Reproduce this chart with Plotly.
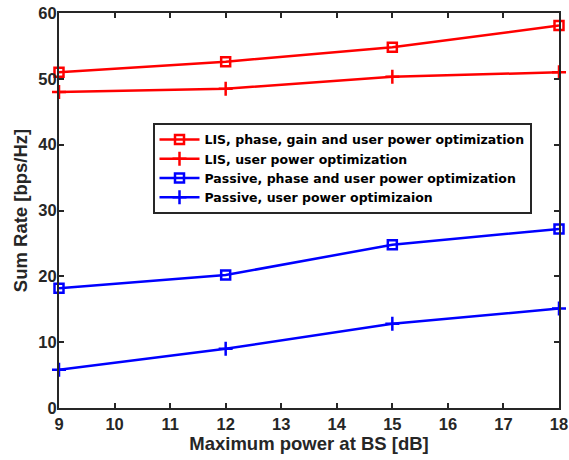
import plotly.graph_objects as go

x_power = [9, 12, 15, 18]
lis_full = [51.0, 52.6, 54.8, 58.1]
lis_user = [48.0, 48.5, 50.3, 51.0]
passive_phase = [18.2, 20.2, 24.8, 27.2]
passive_user = [5.8, 9.0, 12.8, 15.1]

names = [
    "LIS, phase, gain and user power optimization",
    "LIS, user power optimization",
    "Passive, phase and user power optimization",
    "Passive, user power optimizaion",
]

fig = go.Figure()
series = [
    (lis_full, "#ff0000", "square-open", 9),
    (lis_user, "#ff0000", "cross-thin-open", 10),
    (passive_phase, "#0000ff", "square-open", 9),
    (passive_user, "#0000ff", "cross-thin-open", 10),
]
for (vals, col, sym, sz), nm in zip(series, names):
    fig.add_trace(go.Scatter(
        x=x_power, y=vals, name=nm, mode="lines+markers",
        line=dict(color=col, width=2.5),
        marker=dict(symbol=sym, size=sz, color=col, line=dict(color=col, width=2.5)),
        cliponaxis=False,
    ))

axcol = "#262626"
fig.update_layout(
    width=569, height=460,
    margin=dict(l=59, r=10, t=13, b=52),
    paper_bgcolor="white", plot_bgcolor="white",
    font=dict(family="Liberation Sans", color=axcol, size=15),
    showlegend=True,
    legend=dict(
        x=0.187, y=0.722, xanchor="left", yanchor="top",
        bordercolor=axcol, borderwidth=2, bgcolor="white",
        font=dict(family="DejaVu Sans", size=12.5, color="black", weight="bold"),
        tracegroupgap=0, itemwidth=40,
    ),
    xaxis=dict(
        range=[9, 18], tickmode="array", tickvals=list(range(9, 19)),
        showgrid=False, zeroline=False, automargin=False,
        showline=True, linecolor=axcol, linewidth=2, mirror="ticks",
        ticks="inside", ticklen=5, tickwidth=2, tickcolor=axcol,
        tickfont=dict(size=16.5, weight="bold", color=axcol),
        title=dict(text="Maximum power at BS [dB]", font=dict(size=18.5, weight="bold", color=axcol), standoff=5),
    ),
    yaxis=dict(
        range=[0, 60], tickmode="array", tickvals=list(range(0, 61, 10)),
        showgrid=False, zeroline=False, automargin=False,
        showline=True, linecolor=axcol, linewidth=2, mirror="ticks",
        ticks="inside", ticklen=5, tickwidth=2, tickcolor=axcol, ticklabelstandoff=-3,
        tickfont=dict(size=16.5, weight="bold", color=axcol),
        title=dict(text="Sum Rate [bps/Hz]", font=dict(size=18.5, weight="bold", color=axcol), standoff=6),
    ),
)

fig.write_html("out.html", config={"displayModeBar": False},
               post_script="document.body.style.margin='0';document.body.style.padding='0';")
